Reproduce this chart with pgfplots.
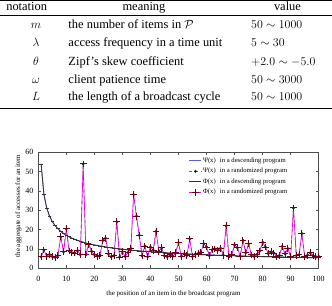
\documentclass[border=0pt]{standalone}
\usepackage[no-math]{fontspec}
\setmainfont{Liberation Serif}
\usepackage{pgfplots}
\pgfplotsset{compat=1.18}
\definecolor{maroon}{RGB}{110,0,20}
\definecolor{psiblue}{RGB}{90,90,220}
\definecolor{psigreen}{RGB}{0,170,0}
\definecolor{phimag}{RGB}{240,0,240}

\pgfplotstableread{
x desc
1 54.00
2 38.18
3 31.18
4 27.00
5 24.15
6 22.05
7 20.41
8 19.09
9 18.00
10 17.08
11 16.28
12 15.59
13 14.98
14 14.43
15 13.94
16 13.50
17 13.10
18 12.73
19 12.39
20 12.07
21 11.78
22 11.51
23 11.26
24 11.02
25 10.80
26 10.59
27 10.39
28 10.21
29 10.03
30 9.86
31 9.70
32 9.55
33 9.40
34 9.26
35 9.13
36 9.00
37 8.88
38 8.76
39 8.65
40 8.54
41 8.43
42 8.33
43 8.23
44 8.14
45 8.05
46 7.96
47 7.88
48 7.79
49 7.71
50 7.64
51 7.56
52 7.49
53 7.42
54 7.35
55 7.28
56 7.22
57 7.15
58 7.09
59 7.03
60 6.97
61 6.91
62 6.86
63 6.80
64 6.75
65 6.70
66 6.65
67 6.60
68 6.55
69 6.50
70 6.45
71 6.41
72 6.36
73 6.32
74 6.28
75 6.24
76 6.19
77 6.15
78 6.11
79 6.08
80 6.04
81 6.00
82 5.96
83 5.93
84 5.89
85 5.86
86 5.82
87 5.79
88 5.76
89 5.72
90 5.69
91 5.66
92 5.63
93 5.60
94 5.57
95 5.54
96 5.51
97 5.48
98 5.45
99 5.43
100 5.40
}\desctable

\pgfplotstableread{
x rand
1 6.0
2 9.5
3 6.2
4 7.2
5 6.0
6 5.6
7 6.6
8 16.3
9 8.5
10 20.4
11 9.0
12 8.0
13 7.9
14 9.2
15 7.0
16 54.0
17 7.1
18 12.4
19 8.8
20 7.0
21 6.3
22 6.8
23 14.4
24 15.6
25 7.5
26 5.9
27 6.5
28 24.1
29 5.8
30 8.7
31 6.1
32 8.3
33 10.2
34 38.2
35 27.0
36 17.1
37 6.4
38 11.5
39 6.0
40 11.0
41 9.4
42 19.1
43 8.8
44 10.6
45 6.4
46 5.9
47 7.0
48 6.2
49 8.1
50 13.3
51 6.2
52 7.5
53 6.6
54 15.2
55 6.0
56 7.3
57 7.6
58 8.4
59 12.7
60 11.0
61 6.5
62 9.6
63 10.0
64 9.3
65 10.4
66 6.8
67 22.0
68 6.0
69 7.0
70 12.1
71 10.6
72 6.3
73 14.4
74 8.0
75 12.7
76 6.9
77 6.1
78 7.2
79 9.0
80 13.5
81 11.0
82 7.6
83 8.5
84 7.9
85 6.3
86 6.7
87 11.3
88 7.4
89 10.2
90 6.0
91 31.2
92 6.6
93 7.0
94 18.0
95 6.1
96 6.8
97 8.1
98 6.6
99 6.0
100 6.2
}\randtable

\begin{document}
\begin{tikzpicture}[x=1bp,y=1bp]
\path[use as bounding box] (0,0) rectangle (332,306);
% ---- table ----
\draw[line width=0.9bp] (0,305.4) -- (332,305.4);
\draw[line width=0.5bp] (0,291) -- (332,291);
\draw[line width=0.9bp] (0,197.7) -- (332,197.7);
\begin{scope}[every node/.style={inner sep=0pt, font=\fontsize{12.5}{14}\selectfont}]
\node[anchor=base] at (26.7,295.8) {notation};
\node[anchor=base] at (144,295.8) {meaning};
\node[anchor=base] at (287.5,295.8) {value};
\node[anchor=base] at (36,277.5) {$m$};
\node[anchor=base] at (36,259.5) {$\lambda$};
\node[anchor=base] at (36,241) {$\theta$};
\node[anchor=base] at (36,222.9) {$\omega$};
\node[anchor=base] at (36,205.5) {$L$};
\node[anchor=base west] at (68.3,277.5) {the number of items in $\mathcal{P}$};
\node[anchor=base west] at (68.3,259.5) {access frequency in a time unit};
\node[anchor=base west] at (68.3,241) {Zipf's skew coefficient};
\node[anchor=base west] at (68.3,222.9) {client patience time};
\node[anchor=base west] at (68.3,205.5) {the length of a broadcast cycle};
\node[anchor=base west] at (251,277.5) {$50\sim1000$};
\node[anchor=base west] at (251,259.5) {$5\sim30$};
\node[anchor=base west] at (251,241) {$+2.0\sim-5.0$};
\node[anchor=base west] at (251,222.9) {$50\sim3000$};
\node[anchor=base west] at (251,205.5) {$50\sim1000$};
\end{scope}
% ---- chart ----
\begin{axis}[
  at={(38.3bp,37.7bp)}, anchor=south west,
  scale only axis, width=280.4bp, height=116bp,
  xmin=0, xmax=100, ymin=0, ymax=60,
  xtick={0,10,...,100}, ytick={0,10,...,60},
  tick label style={font=\fontsize{8}{9}\selectfont},
  xticklabel style={yshift=-4.5bp},
  yticklabel style={xshift=-1.5bp},
  /pgf/number format/assume math mode=true,
  label style={font=\fontsize{7}{8}\selectfont},
  xlabel={the position of an item in the broadcast program},
  ylabel={the aggregate of accesses for an item},
  xlabel style={at={(axis description cs:0.482,-0.2155)}, anchor=center},
  ylabel style={at={(axis description cs:-0.0713,0.537)}, anchor=center},
  axis line style={black!70, line width=0.6bp},
  every tick/.style={black!70, line width=0.5bp},
  major tick length=3bp,
  legend style={draw=none, fill=none, at={(0.537,0.965)}, anchor=north west,
    font=\fontsize{6.7}{7}\selectfont, inner sep=0pt, row sep=2bp,
    nodes={inner sep=1.2bp}},
  legend cell align=left,
  legend image code/.code={\draw[mark repeat=2,mark phase=2] plot coordinates {(0bp,0bp) (6bp,0bp) (12bp,0bp)};},
]
\addplot[psiblue, line width=0.8bp, mark=none] table[x=x,y=desc] {\desctable};
\addlegendentry{Ψ(x)\hspace{2.5bp} in a descending program}
\addplot[psigreen, dashed, line width=0.6bp, mark=*, mark size=1.1bp, mark options={solid, fill=black!80!green, draw=black!80!green}] table[x=x,y=rand] {\randtable};
\addlegendentry{Ψ(x)\hspace{2.5bp} in a randomized program}
\addplot[black!80, line width=0.8bp, mark=-, mark size=1.8bp] table[x=x,y=desc] {\desctable};
\addlegendentry{Φ(x)\hspace{2.5bp} in a descending program}
\addplot[phimag, line width=0.7bp, mark=+, mark size=3.4bp, mark options={maroon, line width=1bp}] table[x=x,y=rand] {\randtable};
\addlegendentry{Φ(x)\hspace{2.5bp} in a randomized program}
\end{axis}
\end{tikzpicture}
\end{document}
